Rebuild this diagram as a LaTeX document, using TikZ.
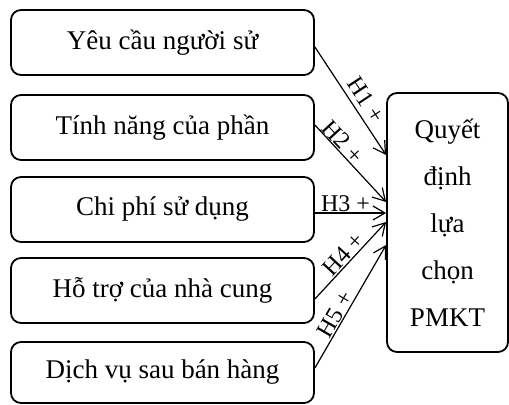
\documentclass[tikz,border=0pt]{standalone}
\usepackage{fontspec}
\setmainfont{Liberation Serif}
\usetikzlibrary{arrows.meta,calc}
\begin{document}
\begin{tikzpicture}[x=0.5pt,y=-0.5pt,
  box/.style={draw,line width=0.9pt,rounded corners=5pt,inner sep=0pt,font=\fontsize{13.5}{16}\selectfont,minimum width=151.5pt,minimum height=32.5pt},
  link/.style={line width=0.6pt,-{Straight Barb[length=6pt,width=7pt,line width=0.6pt]}},
  lab/.style={sloped,above,inner sep=0.5pt,font=\fontsize{12}{13}\selectfont}]
\useasboundingbox (0,0) rectangle (509,405);
\node[box] (b1) at (162.5,42.5) {Yêu cầu người sử};
\node[box] (b2) at (162.5,127.5) {Tính năng của phần};
\node[box] (b3) at (162.5,209.5) {Chi phí sử dụng};
\node[box] (b4) at (162.5,290.5) {Hỗ trợ của nhà cung};
\node[box,minimum height=30.5pt] (b5) at (162.5,372.5) {Dịch vụ sau bán hàng};
\node[box,minimum width=60.5pt,minimum height=129.5pt,align=center,font=\fontsize{13.5}{23.5}\selectfont] (q) at (447.5,222.5) {Quyết\\định\\lựa\\chọn\\PMKT};
\draw[link] ($(b1.east)+(0,4.5)$) -- node[lab,pos=0.56,inner sep=2.5pt]{H1 +} ($(q.west)+(0,-67.5)$);
\draw[link] ($(b2.east)+(0,-2.5)$) -- node[lab,pos=0.3]{H2 +} ($(q.west)+(0,-20.5)$);
\draw[link] ($(b3.east)+(0,3.5)$) -- node[lab,pos=0.43]{H3 +} ($(q.west)+(0,-9.5)$);
\draw[link] ($(b4.east)+(0,8.5)$) -- node[lab,pos=0.5]{H4 +} ($(q.west)+(0,-0.5)$);
\draw[link] ($(b5.east)+(0,-4.5)$) -- node[lab,pos=0.4]{H5 +} ($(q.west)+(0,22.5)$);
\end{tikzpicture}
\end{document}
